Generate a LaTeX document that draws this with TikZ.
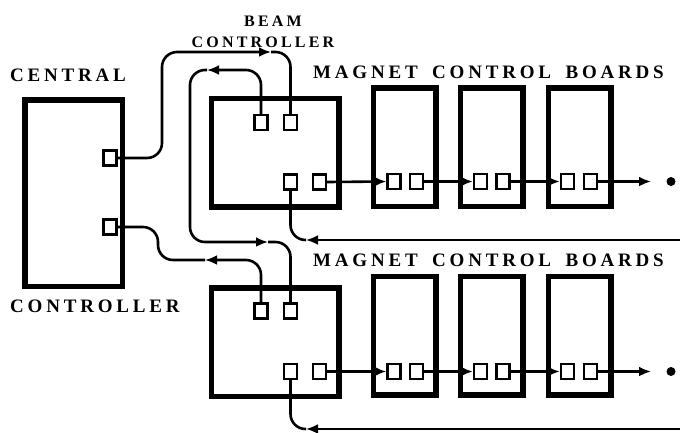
\documentclass[tikz,border=0pt]{standalone}
\usepackage{fontspec}
\setmainfont{Liberation Serif}
\newfontfamily\lblfont[LetterSpace=20,WordSpace=1.7]{Liberation Serif}
\usetikzlibrary{arrows.meta,positioning,calc}

\begin{document}
\begin{tikzpicture}[x=1pt,y=-1pt,
 ctrlbox/.style={draw,line width=5.5pt,inner sep=0pt},
 board/.style={draw,line width=5.5pt,minimum width=62.5pt,minimum height=118.5pt,inner sep=0pt},
 port/.style={draw,line width=2.2pt,minimum width=13pt,minimum height=15pt,inner sep=0pt},
 wire/.style={line width=2.6pt,rounded corners=15pt},
 arr/.style={wire,-{Latex[length=12pt,width=10pt]}},
 endpt/.style={circle,fill,minimum size=9pt,inner sep=0pt},
 lbl/.style={font=\lblfont\bfseries\fontsize{19}{19}\selectfont,inner sep=0pt,anchor=base west},
 small/.style={lbl,font=\lblfont\bfseries\fontsize{16}{16}\selectfont,anchor=base}
]
\useasboundingbox (0,0) rectangle (680,432);

% labels
\node[lbl] (central) at (10,81) {CENTRAL};
\node[lbl] (controller) at (10,312) {CONTROLLER};
\node[small] (beam) at (273,26) {BEAM};
\node[small] (beamctl) at (263,47) {CONTROLLER};
\node[lbl] (mcbtop) at (313,78) {MAGNET CONTROL BOARDS};
\node[lbl] (mcbbot) at (313,266) {MAGNET CONTROL BOARDS};

% central controller
\node[ctrlbox,minimum width=97.5pt,minimum height=186.5pt] (cc) at (73.5,193) {};
\node[port] (cc1) at (110,158) {};
\node[port] (cc2) at (110,227) {};

% beam controllers
\node[ctrlbox,minimum width=127.5pt,minimum height=108.5pt] (bt) at (275,152.5) {};
\node[port] (bt1) at (261,122.5) {};
\node[port] (bt2) at (290.5,122.5) {};
\node[port] (bt3) at (290.5,182) {};
\node[port] (bt4) at (319.5,182) {};
\node[ctrlbox,minimum width=127.5pt,minimum height=108.5pt] (bb) at (275,342) {};
\node[port] (bb1) at (261,311) {};
\node[port] (bb2) at (290.5,311) {};
\node[port] (bb3) at (290.5,371.5) {};
\node[port] (bb4) at (319.5,371.5) {};

% magnet control boards, upper row
\node[board] (mt1) at (404.5,147) {};
\node[board] (mt2) at (491.5,147) {};
\node[board] (mt3) at (579.5,147) {};
\node[port] (mt1a) at (394,181.5) {};
\node[port] (mt1b) at (416.5,181.5) {};
\node[port] (mt2a) at (480.5,181.5) {};
\node[port] (mt2b) at (503,181.5) {};
\node[port] (mt3a) at (567.5,181.5) {};
\node[port] (mt3b) at (590.5,181.5) {};
\node[endpt] (dtop) at (671,181.5) {};
\coordinate (etop) at (651,181.5);

% magnet control boards, lower row
\node[board] (mb1) at (404.5,335.5) {};
\node[board] (mb2) at (491.5,335.5) {};
\node[board] (mb3) at (579.5,335.5) {};
\node[port] (mb1a) at (394,371.5) {};
\node[port] (mb1b) at (416.5,371.5) {};
\node[port] (mb2a) at (480.5,371.5) {};
\node[port] (mb2b) at (503,371.5) {};
\node[port] (mb3a) at (567.5,371.5) {};
\node[port] (mb3b) at (590.5,371.5) {};
\node[endpt] (dbot) at (671,371.5) {};
\coordinate (ebot) at (651,371.5);

% arrow marks and free ends
\coordinate (m1) at (271,52);
\coordinate (m2) at (207,70);
\coordinate (m3) at (268,242);
\coordinate (m4) at (205,260);
\coordinate (m5) at (306,240);
\coordinate (m6) at (306,429);
\coordinate (rtop) at (680,240);
\coordinate (rbot) at (680,429);

% links between controllers
\draw[arr] (cc1.east) -- (162,158) -- (162,52) -- (m1);
\draw[wire] (m1) -| (bt2.north);
\draw[arr] (bt1.north) |- (m2);
\draw[arr] (m2) -- (190,70) -- (190,242) -- (m3);
\draw[wire] (m3) -| (bb2.north);
\draw[arr] (bb1.north) |- (m4);
\draw[wire] (m4) -- (158,260) -- (158,227) -- (cc2.east);

% board chains
\draw[arr] (bt4.east) -- (mt1a.west);
\draw[arr] (mt1b.east) -- (mt2a.west);
\draw[arr] (mt2b.east) -- (mt3a.west);
\draw[arr] (mt3b.east) -- (etop);
\draw[arr] (bb4.east) -- (mb1a.west);
\draw[arr] (mb1b.east) -- (mb2a.west);
\draw[arr] (mb2b.east) -- (mb3a.west);
\draw[arr] (mb3b.east) -- (ebot);

% return lines
\draw[arr] (rtop) -- (m5);
\draw[wire] (m5) -| (bt3.south);
\draw[arr] (rbot) -- (m6);
\draw[wire] (m6) -| (bb3.south);
\end{tikzpicture}
\end{document}
